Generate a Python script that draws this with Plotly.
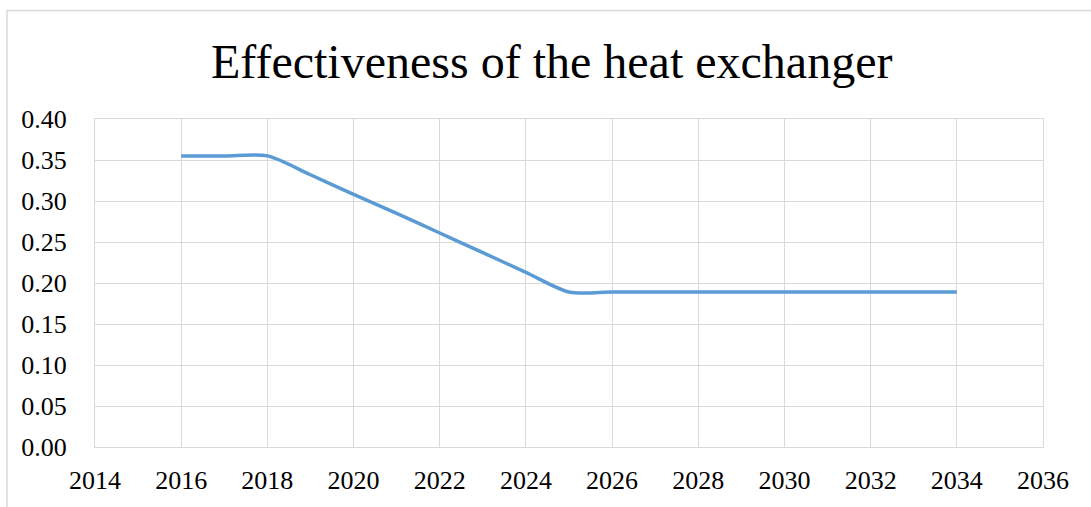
import plotly.graph_objects as go

# Heat exchanger effectiveness by year
years = [2016, 2017, 2018, 2019, 2020, 2021, 2022, 2023, 2024, 2025,
         2026, 2027, 2028, 2029, 2030, 2031, 2032, 2033, 2034]
effectiveness = [0.355, 0.355, 0.355, 0.332, 0.308, 0.285, 0.261, 0.237, 0.213, 0.189,
                 0.189, 0.189, 0.189, 0.189, 0.189, 0.189, 0.189, 0.189, 0.189]

x_ticks = list(range(2014, 2037, 2))
y_ticks = [0.0, 0.05, 0.10, 0.15, 0.20, 0.25, 0.30, 0.35, 0.40]
title_text = "Effectiveness of the heat exchanger"

FONT = "Liberation Serif"
GRID = "#D9D9D9"

fig = go.Figure()
fig.add_trace(go.Scatter(
    x=years, y=effectiveness, mode="lines",
    line=dict(color="#5B9BD5", width=3.5, shape="spline", smoothing=0.8),
    hoverinfo="x+y", showlegend=False,
))

fig.update_layout(
    width=1091, height=507,
    margin=dict(l=95, r=48, t=119, b=60),
    paper_bgcolor="white", plot_bgcolor="white",
    font=dict(family=FONT, size=26, color="black"),
    showlegend=False,
)

fig.update_xaxes(
    range=[2014, 2036], tickvals=x_ticks, ticktext=[str(v) for v in x_ticks],
    showgrid=True, gridcolor=GRID, gridwidth=1,
    showline=True, linecolor=GRID, linewidth=1, mirror=True,
    zeroline=False, ticks="", ticklabelstandoff=10,
    tickfont=dict(family=FONT, size=26, color="black"),
)
fig.update_yaxes(
    range=[0, 0.40], tickvals=y_ticks, ticktext=[f"{v:.2f}" for v in y_ticks],
    showgrid=True, gridcolor=GRID, gridwidth=1,
    showline=True, linecolor=GRID, linewidth=1, mirror=True,
    zeroline=False, ticks="", ticklabelstandoff=22,
    tickfont=dict(family=FONT, size=26, color="black"),
)

# Chart title
fig.add_annotation(
    text=title_text, xref="paper", yref="paper",
    x=(551.5 - 95) / 948, y=(447 - 62) / 328,
    xanchor="center", yanchor="middle", showarrow=False,
    font=dict(family=FONT, size=48, color="black"),
)

# Outer chart frame
fig.add_shape(
    type="rect", xref="paper", yref="paper",
    x0=(7 - 95) / 948, x1=(1100 - 95) / 948,
    y0=(447 - 515) / 328, y1=(447 - 10.5) / 328,
    line=dict(color=GRID, width=1.5), fillcolor="rgba(0,0,0,0)", layer="below",
)

fig.write_html("out.html")
